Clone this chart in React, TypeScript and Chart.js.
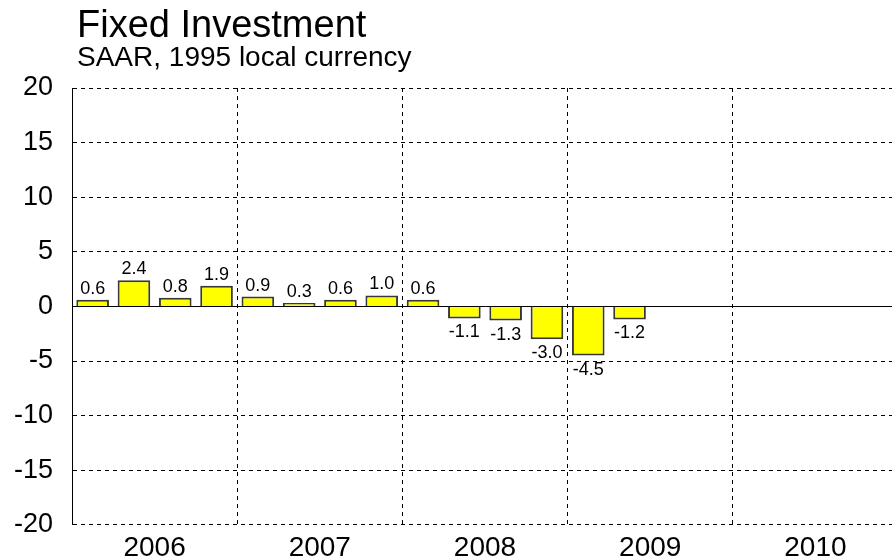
import React, { useEffect, useRef } from 'react';
import { Chart, registerables } from 'chart.js';

Chart.register(...registerables);

const FONT = '"Liberation Sans", Arial, Helvetica, sans-serif';

const titleText = 'Fixed Investment';
const subtitleText = 'SAAR, 1995 local currency';

const years = ['2006', '2007', '2008', '2009', '2010'];

const quarterLabels = [
  '2006Q1', '2006Q2', '2006Q3', '2006Q4',
  '2007Q1', '2007Q2', '2007Q3', '2007Q4',
  '2008Q1', '2008Q2', '2008Q3', '2008Q4',
  '2009Q1', '2009Q2', '2009Q3', '2009Q4',
  '2010Q1', '2010Q2', '2010Q3', '2010Q4',
];

const values: (number | null)[] = [
  0.6, 2.4, 0.8, 1.9,
  0.9, 0.3, 0.6, 1.0,
  0.6, -1.1, -1.3, -3.0,
  -4.5, -1.2, null, null,
  null, null, null, null,
];

const yMin = -20;
const yMax = 20;
const yStep = 5;

export default function App() {
  const ref = useRef<HTMLCanvasElement>(null);

  useEffect(() => {
    if (!ref.current) return;

    const textPlugin = {
      id: 'customTexts',
      afterDatasetsDraw(chart: any) {
        const ctx = chart.ctx;
        const meta = chart.getDatasetMeta(0);
        ctx.save();
        ctx.fillStyle = '#000';
        ctx.font = `18px ${FONT}`;
        ctx.textAlign = 'center';
        meta.data.forEach((bar: any, i: number) => {
          const v = values[i];
          if (v === null || v === undefined) return;
          const label = v.toFixed(1);
          if (v >= 0) {
            ctx.textBaseline = 'alphabetic';
            ctx.fillText(label, bar.x, bar.y - 6);
          } else {
            ctx.textBaseline = 'top';
            ctx.fillText(label, bar.x, bar.y + 5);
          }
        });
        ctx.restore();
      },
      afterDraw(chart: any) {
        const ctx = chart.ctx;
        const xs = chart.scales.x;
        ctx.save();
        ctx.fillStyle = '#000';
        ctx.textAlign = 'left';
        ctx.textBaseline = 'alphabetic';
        ctx.font = `38px ${FONT}`;
        ctx.fillText(titleText, 77, 37);
        ctx.font = `28px ${FONT}`;
        ctx.fillText(subtitleText, 77, 66);
        ctx.font = `28px ${FONT}`;
        ctx.textAlign = 'center';
        years.forEach((y, i) => {
          const c = (xs.getPixelForValue(i * 4) + xs.getPixelForValue(i * 4 + 3)) / 2;
          ctx.fillText(y, c, 556);
        });
        ctx.restore();
      },
    };

    const chart = new Chart(ref.current, {
      type: 'bar',
      data: {
        labels: quarterLabels,
        datasets: [
          {
            data: values as any,
            backgroundColor: '#FFFF00',
            borderColor: '#383838',
            borderWidth: 2,
            barPercentage: 0.79,
            categoryPercentage: 1,
          },
        ],
      },
      options: {
        responsive: false,
        animation: false,
        devicePixelRatio: 1,
        layout: { autoPadding: false, padding: { top: 88, left: 0, right: 0, bottom: 0 } },
        plugins: {
          legend: { display: false },
          tooltip: { enabled: false },
          title: { display: false },
        },
        scales: {
          x: {
            type: 'category',
            offset: true,
            afterFit: (s: any) => {
              s.height = 30.4;
            },
            ticks: { display: false },
            grid: {
              offset: true,
              drawTicks: false,
              lineWidth: 1,
              color: (c: any) => (c.index > 0 && c.index % 4 === 0 ? '#000' : 'rgba(0,0,0,0)'),
            },
            border: { display: false, dash: [4, 4] },
          },
          y: {
            min: yMin,
            max: yMax,
            afterFit: (s: any) => {
              s.width = 72;
            },
            ticks: {
              stepSize: yStep,
              color: '#000',
              padding: 19,
              font: { family: FONT, size: 27 },
            },
            grid: {
              drawTicks: false,
              lineWidth: 1,
              color: '#000',
            },
            border: {
              display: true,
              color: '#000',
              width: 1,
              dash: (c: any) => (c.tick && c.tick.value === 0 ? [] : [4, 4]),
            } as any,
          },
        },
      } as any,
      plugins: [textPlugin],
    });

    return () => chart.destroy();
  }, []);

  return (
    <div
      style={{
        position: 'absolute',
        left: 0,
        top: 0,
        width: 892,
        height: 560,
        overflow: 'hidden',
        background: '#fff',
      }}
    >
      <canvas ref={ref} width={898} height={560} style={{ display: 'block', width: 898, height: 560 }} />
    </div>
  );
}
